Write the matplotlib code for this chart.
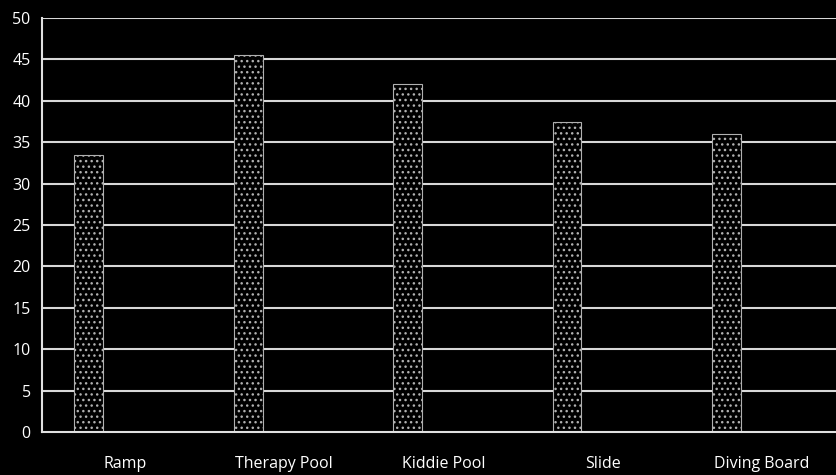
import numpy as np
import matplotlib.pyplot as plt

# Attrezzature della piscina e punteggi
categories = ['Ramp', 'Therapy Pool', 'Kiddie Pool', 'Slide', 'Diving Board']
values = [33.5, 45.5, 42, 37.5, 36]
yticks = [0, 5, 10, 15, 20, 25, 30, 35, 40, 45, 50]

plt.rcParams['font.family'] = ['Open Sans', 'DejaVu Sans']
plt.rcParams['hatch.linewidth'] = 1.0

fig = plt.figure(figsize=(8.36, 4.75), dpi=100, facecolor='black')
ax = fig.add_axes([0.050, 0.0905, 0.957, 0.8715], facecolor='black')

x = np.arange(len(categories))

# griglia orizzontale sotto le barre
for v in yticks[1:]:
    ax.axhline(v, color='#d8d8d8', linewidth=1.5, zorder=1)

# barre puntinate, spostate a sinistra del centro categoria
ax.bar(x - 0.225, values, width=0.18, color='black', edgecolor='#b0b0b0',
       hatch='...', linewidth=0.8, zorder=2)

ax.set_xlim(-0.52, 4.5)
ax.set_ylim(0, 50)
ax.set_yticks(yticks)
ax.set_xticks(x)
ax.set_xticklabels(categories)

ax.tick_params(axis='both', colors='white', labelsize=11.5, length=0)
ax.tick_params(axis='x', pad=17)
ax.tick_params(axis='y', pad=8)

for side in ['top', 'right']:
    ax.spines[side].set_visible(False)
for side in ['left', 'bottom']:
    ax.spines[side].set_color('#e0e0e0')
    ax.spines[side].set_linewidth(1.5)

fig.savefig('out.png', dpi=100, facecolor='black')
